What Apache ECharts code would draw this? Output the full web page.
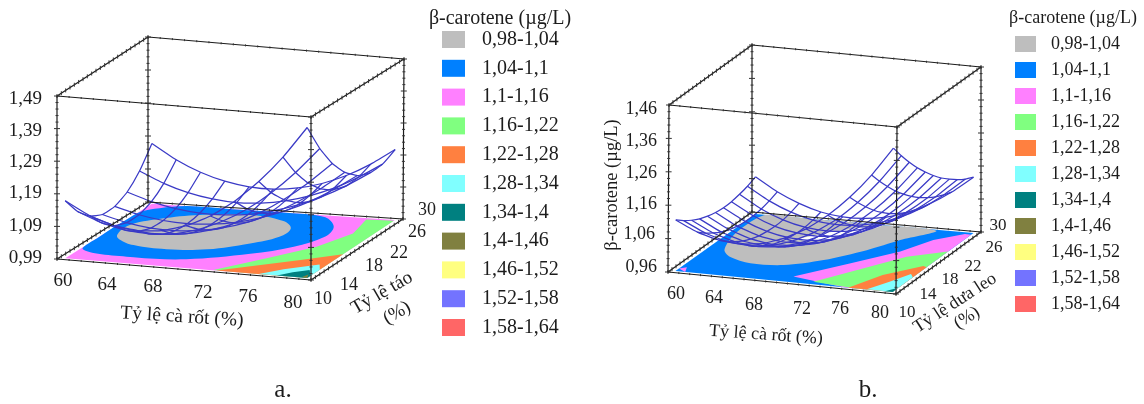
<!DOCTYPE html>
<html><head><meta charset="utf-8">
<style>html,body{margin:0;padding:0;background:#fff}#c{width:1144px;height:404px}</style>
<script src="https://cdn.jsdelivr.net/npm/echarts@6/dist/echarts.min.js"></script>
</head><body><div id="c"></div>
<script>
// ---------- legend bands ----------
const bandNames = ['0,98-1,04','1,04-1,1','1,1-1,16','1,16-1,22','1,22-1,28','1,28-1,34','1,34-1,4','1,4-1,46','1,46-1,52','1,52-1,58','1,58-1,64'];
const bandColors = ['#BEBEBE','#0080FF','#FF80FF','#80FF80','#FF8040','#80FFFF','#008080','#808040','#FFFF80','#7373FF','#FF6666'];

// ---------- response surface (a): rows = apple %, columns = carrot % ----------
const xNodes = [60,62,64,66,68,70,72,74,76,78,80];
const yNodesA = [10,12.86,15.71,18.57,21.43,24.29,27.14,30];
const surfaceA = [
 [1.166,1.127,1.103,1.093,1.099,1.120,1.156,1.207,1.274,1.355,1.452],
 [1.109,1.080,1.063,1.058,1.065,1.084,1.116,1.159,1.215,1.283,1.363],
 [1.071,1.048,1.036,1.033,1.041,1.058,1.085,1.122,1.169,1.226,1.292],
 [1.052,1.033,1.022,1.020,1.026,1.040,1.063,1.095,1.135,1.183,1.240],
 [1.053,1.033,1.021,1.017,1.021,1.032,1.051,1.078,1.112,1.155,1.205],
 [1.073,1.049,1.033,1.025,1.025,1.032,1.048,1.071,1.102,1.141,1.188],
 [1.113,1.081,1.058,1.044,1.038,1.042,1.054,1.075,1.104,1.143,1.190],
 [1.173,1.129,1.096,1.074,1.062,1.060,1.069,1.088,1.118,1.159,1.210]];
// ---------- response surface (b): rows = cucumber %, columns = carrot % ----------
const yNodesB = [10,12,14,16,18,20,22,24,26,28,30];
const surfaceB = [
 [1.113,1.083,1.065,1.060,1.068,1.090,1.124,1.171,1.231,1.304,1.391],
 [1.094,1.063,1.044,1.038,1.044,1.064,1.096,1.140,1.198,1.268,1.351],
 [1.078,1.046,1.026,1.018,1.023,1.041,1.071,1.113,1.168,1.235,1.314],
 [1.065,1.032,1.011,1.003,1.006,1.021,1.049,1.089,1.140,1.204,1.280],
 [1.056,1.022,1.000,0.990,0.992,1.005,1.030,1.067,1.116,1.177,1.250],
 [1.050,1.015,0.992,0.981,0.981,0.992,1.015,1.049,1.095,1.153,1.222],
 [1.047,1.012,0.988,0.975,0.973,0.982,1.003,1.035,1.078,1.132,1.197],
 [1.048,1.012,0.986,0.972,0.968,0.975,0.994,1.023,1.063,1.114,1.176],
 [1.053,1.015,0.988,0.972,0.967,0.972,0.988,1.014,1.051,1.099,1.157],
 [1.060,1.022,0.994,0.976,0.969,0.972,0.985,1.008,1.042,1.087,1.141],
 [1.071,1.032,1.003,0.983,0.974,0.975,0.985,1.006,1.037,1.078,1.129]];

// ---------- floor contour bands, as [carrot %, second ingredient %] ----------
const fullFloor = [[60,10],[60,30],[80,30],[80,10]];
const aPink = [fullFloor];
const aBlue = [[[60.3,13.3],[60,17.9],[60,24],[60.1,27.1],[61.1,28.7],[62.9,30],[66.6,30],[71.6,30],[74.5,29.4],[76.2,26.6],[76.7,23.3],[75.5,19.4],[73.1,16.1],[69,12.8],[64.9,12.1]]];
const aGrey = [[[61.1,18.9],[60.8,22.1],[62.4,25.2],[64.9,27.4],[68.6,28.5],[71.8,27.3],[73.2,25.1],[73.3,22.2],[71.9,19.4],[69.4,16.5],[66.4,15.5],[63.5,16],[61.8,17.5]]];
const aGreen = [[[72.2,10.1],[74.8,15.1],[77.2,19.9],[78.4,24.9],[77.8,29.6],[80,29.8],[80,10],[76.4,10]]];
const aOrange = [[[72.5,10],[75.1,12.9],[77.5,15.4],[80,18.2],[80,10],[76.9,10]]];
const aCyan = [[[76,10],[77.3,12.1],[79.4,14.5],[80,12.9],[80,10]]];
const aTeal = [[[77.5,10],[78.3,11.4],[79.3,12.5],[80,10.8],[80,10]]];
const aOlive = [[[79.5,10.1],[79.7,11.1],[80,10],[80,10]]];

const bBlue = [fullFloor];
const bGrey = [[[61.6,17.9],[60.7,22.3],[60.5,26.3],[61,30],[64.5,30],[71,30],[76.7,29.7],[74.8,25.9],[73.2,21.9],[70.8,17.7],[68.1,15],[65.2,14.6],[62.8,16]]];
const bPink = [[[70.2,11.8],[73.3,17.4],[76.1,22.4],[77.5,26.8],[79.4,29.5],[80,29.4],[80,10],[75.6,10]],[[60,10.9],[60.5,11.5],[60.9,10]]];
const bGreen = [[[72.4,10.8],[75,16.3],[77.2,21],[80,23.7],[80,10],[76.6,10]]];
const bOrange = [[[75.9,10],[77.3,14.8],[79.6,18.7],[80,18.4],[80,10],[77,10]]];
const bCyan = [[[77.6,10.1],[78.6,13],[79.5,15.9],[80,15],[80,10]]];
const bTeal = [[[79.3,10],[79.9,11.2],[80,10.6],[80,10]]];
const bBelowScale = [[[66.3,23.1],[67.8,25.8],[69.9,28.3],[71.7,30],[71.6,29.4],[70.2,25.8],[68.5,23.8]]];

// ---------- axis ticks ----------
const xTicks = ['60','64','68','72','76','80'];
const yTicks = ['10','14','18','22','26','30'];
const zTicksA = ['0,99','1,09','1,19','1,29','1,39','1,49'];
const zTicksB = ['0,96','1,06','1,16','1,26','1,36','1,46'];

// ---------- layout ----------
const SERIF = "'Liberation Serif','Times New Roman',serif";
const INK = '#1c1c1c';
const boxA = {floor:[[57,259],[311,280],[403,219],[148,202]], top:[[57,96],[311,117],[404,59],[148,37]], zMin:0.99, zMax:1.49};
const boxB = {floor:[[668,272],[896,294],[981,232],[752,212]], top:[[669,105],[897,127],[981,67],[752,45]], zMin:0.96, zMax:1.46};
const xDomain = [59.5,80.5], yDomain = [9.5,30.5];

function lerp(a,b,t){return a+(b-a)*t;}
function bil(q,u,v){return [0,1].map(k=>(1-u)*(1-v)*q[0][k]+u*(1-v)*q[1][k]+u*v*q[2][k]+(1-u)*v*q[3][k]);}
function project(box,x,y,z){
  const u=(x-xDomain[0])/(xDomain[1]-xDomain[0]), v=(y-yDomain[0])/(yDomain[1]-yDomain[0]), w=(z-box.zMin)/(box.zMax-box.zMin);
  const b=bil(box.floor,u,v), t=bil(box.top,u,v);
  return [lerp(b[0],t[0],w),lerp(b[1],t[1],w)];
}

function bandSeries(name,color,polys,box,z,smooth){
  return {type:'custom',name,coordinateSystem:'cartesian2d',clip:false,silent:true,z,animation:false,
    itemStyle:{color},
    data:polys.map((_,i)=>[i]),
    renderItem(params,api){
      const pts=polys[params.dataIndex].map(p=>api.coord(project(box,p[0],p[1],box.zMin)));
      return {type:'polygon',shape:{points:pts,smooth:smooth||0},style:{fill:color,stroke:null}};
    }};
}
function meshSeries(box,yNodes,surface){
  return {type:'custom',name:'surface',coordinateSystem:'cartesian2d',clip:false,silent:true,z:20,animation:false,data:[[0]],
    renderItem(params,api){
      const st={stroke:'#3a3ac6',lineWidth:1.25,fill:null};const kids=[];
      surface.forEach((row,j)=>{kids.push({type:'polyline',shape:{points:row.map((v,i)=>api.coord(project(box,xNodes[i],yNodes[j],v))),smooth:0.15},style:st});});
      xNodes.forEach((x,i)=>{kids.push({type:'polyline',shape:{points:surface.map((row,j)=>api.coord(project(box,x,yNodes[j],row[i]))),smooth:0.15},style:st});});
      return {type:'group',children:kids};
    }};
}
function boxSeries(box){
  return {type:'custom',name:'box',coordinateSystem:'cartesian2d',clip:false,silent:true,z:30,animation:false,data:[[0]],
    renderItem(params,api){
      const [x0,x1]=xDomain,[y0,y1]=yDomain,z0=box.zMin,z1=box.zMax;const kids=[];
      const st={stroke:INK,lineWidth:1.2},tk={stroke:'#333',lineWidth:1};
      const L=(a,b,s)=>kids.push({type:'line',shape:{x1:a[0],y1:a[1],x2:b[0],y2:b[1]},style:s});
      const P=(x,y,z)=>api.coord(project(box,x,y,z));
      for(const z of [z0,z1]){
        L(P(x0,y0,z),P(x1,y0,z),st);L(P(x1,y0,z),P(x1,y1,z),st);L(P(x1,y1,z),P(x0,y1,z),st);L(P(x0,y1,z),P(x0,y0,z),st);
        for(let i=0;i<=21;i++){
          for(const x of [x0,x1]){const p=P(x,y0+i,z);L([p[0],p[1]-2],[p[0],p[1]+2],tk);}
          for(const y of [y0,y1]){const p=P(x0+i,y,z);L([p[0],p[1]-1],[p[0],p[1]+1],tk);}
        }
      }
      for(const [x,y] of [[x0,y0],[x1,y0],[x1,y1],[x0,y1]]){
        L(P(x,y,z0),P(x,y,z1),st);
        for(let i=0;i<=25;i++){const p=P(x,y,z0+i*0.02);const l=i%5==0?3:1.5;L([p[0]-l,p[1]],[p[0]+l,p[1]],tk);}
      }
      return {type:'group',children:kids};
    }};
}
function txt(text,x,y,size,opt){opt=opt||{};
  return {type:'text',x,y,rotation:opt.rot||0,silent:true,z:50,
    style:{text,fill:INK,font:size+'px '+SERIF,align:opt.align||'center',verticalAlign:'middle'}};
}
function d2r(d){return d*Math.PI/180;}

const labelsA = [[63,281],[107,285],[153,287],[203,293],[248,297],[293,303]];
const labelsAy = [[323,299],[349,285],[374,266],[399,253],[417,232],[427,210]];
const labelsAz = [[42,258],[42,226],[42,193],[42,162],[42,131],[42,99]];
const labelsB = [[676,294],[714,298],[754,305],[802,309],[840,309],[880,313]];
const labelsBy = [[907,313],[928,295],[950,280],[973,267],[994,248],[998,226]];
const labelsBz = [[657,267],[655,234],[657,204],[657,173],[657,141],[657,109]];

const graphics = [];
xTicks.forEach((t,i)=>{graphics.push(txt(t,labelsA[i][0],labelsA[i][1],19));graphics.push(txt(t,labelsB[i][0],labelsB[i][1],18));});
yTicks.forEach((t,i)=>{graphics.push(txt(t,labelsAy[i][0],labelsAy[i][1],18));graphics.push(txt(t,labelsBy[i][0],labelsBy[i][1],17));});
zTicksA.forEach((t,i)=>graphics.push(txt(t,labelsAz[i][0],labelsAz[i][1],19,{align:'right'})));
zTicksB.forEach((t,i)=>graphics.push(txt(t,labelsBz[i][0],labelsBz[i][1],18,{align:'right'})));
graphics.push(
  txt('Tỷ lệ cà rốt (%)',182,317,19.5,{rot:d2r(-3.5)}),
  txt('Tỷ lệ táo',382,293,19,{rot:d2r(30)}),
  txt('(%)',397,313,19,{rot:d2r(30)}),
  txt('Tỷ lệ cà rốt (%)',766,335,18,{rot:d2r(-4)}),
  txt('Tỷ lệ dưa leo',955,303,18,{rot:d2r(33)}),
  txt('(%)',967,318,18,{rot:d2r(33)}),
  txt('β-carotene (µg/L)',612,185,18.5,{rot:d2r(90)}),
  txt('β-carotene (µg/L)',500,19,20),
  txt('β-carotene (µg/L)',1073,18,18),
  txt('a.',283,390,25),
  txt('b.',868,390,25)
);

const series = [
  bandSeries(bandNames[2],bandColors[2],aPink,boxA,2),
  bandSeries(bandNames[1],bandColors[1],aBlue,boxA,3,0.35),
  bandSeries(bandNames[0],bandColors[0],aGrey,boxA,4,0.4),
  bandSeries(bandNames[3],bandColors[3],aGreen,boxA,3),
  bandSeries(bandNames[4],bandColors[4],aOrange,boxA,4),
  bandSeries(bandNames[5],bandColors[5],aCyan,boxA,5),
  bandSeries(bandNames[6],bandColors[6],aTeal,boxA,6),
  bandSeries(bandNames[7],bandColors[7],aOlive,boxA,7),
  bandSeries(bandNames[8],bandColors[8],[],boxA,7),
  bandSeries(bandNames[9],bandColors[9],[],boxA,7),
  bandSeries(bandNames[10],bandColors[10],[],boxA,7),
  bandSeries(bandNames[1],bandColors[1],bBlue,boxB,2),
  bandSeries(bandNames[0],bandColors[0],bGrey,boxB,3,0.3),
  bandSeries('below 0,98','#ffffff',bBelowScale,boxB,4,0.3),
  bandSeries(bandNames[2],bandColors[2],bPink,boxB,3),
  bandSeries(bandNames[3],bandColors[3],bGreen,boxB,4),
  bandSeries(bandNames[4],bandColors[4],bOrange,boxB,5),
  bandSeries(bandNames[5],bandColors[5],bCyan,boxB,6),
  bandSeries(bandNames[6],bandColors[6],bTeal,boxB,7),
  meshSeries(boxA,yNodesA,surfaceA),
  meshSeries(boxB,yNodesB,surfaceB),
  boxSeries(boxA),
  boxSeries(boxB)
];

const chart = echarts.init(document.getElementById('c'),null,{renderer:'canvas'});
chart.setOption({
  animation:false,
  backgroundColor:'#fff',
  grid:{left:0,right:0,top:0,bottom:0},
  xAxis:{type:'value',min:0,max:1144,show:false},
  yAxis:{type:'value',min:0,max:404,inverse:true,show:false},
  tooltip:{show:false},
  legend:[
    {data:bandNames,orient:'vertical',left:437,top:24.5,itemWidth:23,itemHeight:17,itemGap:8.8,icon:'rect',selectedMode:false,
     textStyle:{fontFamily:SERIF,fontSize:20,color:INK,lineHeight:17,padding:[0,0,0,12]}},
    {data:bandNames,orient:'vertical',left:1010,top:30,itemWidth:21,itemHeight:16,itemGap:8,icon:'rect',selectedMode:false,
     textStyle:{fontFamily:SERIF,fontSize:18,color:INK,lineHeight:16,padding:[0,0,0,10]}}
  ],
  graphic:graphics,
  series
});
</script></body></html>
